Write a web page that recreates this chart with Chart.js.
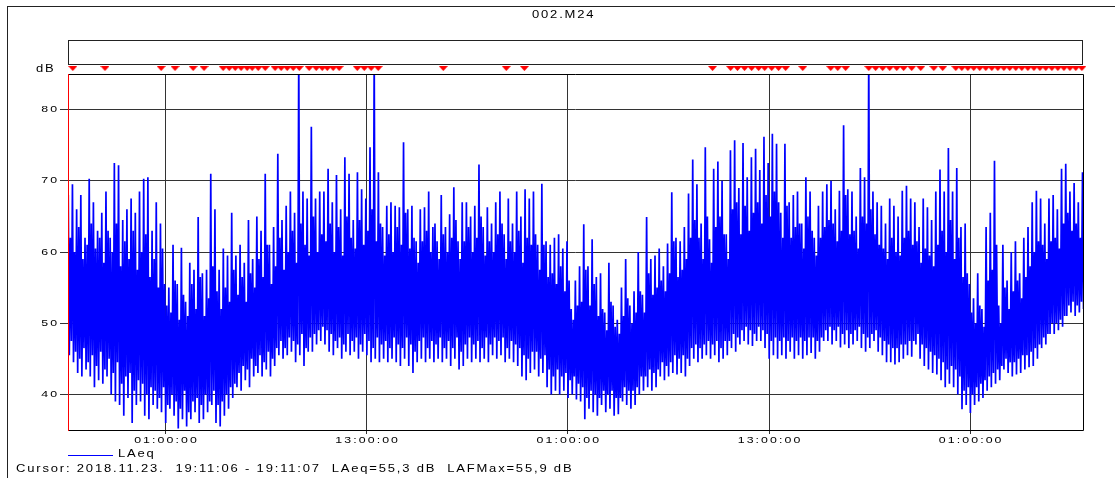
<!DOCTYPE html>
<html lang="en">
<head>
<meta charset="UTF-8">
<title>002.M24</title>
<script src="https://cdn.jsdelivr.net/npm/chart.js@4"></script>
<style>
  body { margin: 0; background: #fff; }
  .wrap { position: relative; width: 1115px; height: 478px; overflow: hidden; font-family: 'Liberation Sans', Arial, sans-serif; }
  #chart { position: absolute; left: 0; top: 0; }
  .frame { position: absolute; left: 7px; top: 6px; right: -4px; bottom: -4px; border-top: 1px solid #222; border-left: 1px solid #222; }
  .box { position: absolute; left: 68px; top: 40px; width: 1013px; height: 23px; border: 1px solid #222; }
  .txt { position: absolute; font-size: 10px; line-height: 10px; letter-spacing: 1.4px; transform: scaleX(1.3); transform-origin: 0 50%; white-space: pre; color: #000; }
  .legline { position: absolute; left: 68px; top: 455px; width: 45px; height: 1px; background: #0000ff; }
</style>
</head>
<body>
<div class="wrap">
  <canvas id="chart" width="1115" height="478"></canvas>
  <div class="frame"></div>
  <div class="box"></div>
  <div class="txt" style="left:532px; top:10px;">002.M24</div>
  <div class="txt" style="left:36px; top:64px;">dB</div>
  <div class="legline"></div>
  <div class="txt" style="left:118px; top:449px;">LAeq</div>
  <div class="txt" style="left:16px; top:464px;">Cursor: 2018.11.23.  19:11:06 - 19:11:07  LAeq=55,3 dB  LAFMax=55,9 dB</div>
</div>

<script>
// time axis in hours counted from midnight of 2018.11.23
const startHour = 19.185;
const endHour = 79.73;
const xTickHours = [25, 37, 49, 61, 73];
const yTicks = [40, 50, 60, 70, 80];

// LAeq: per 15 minutes from 19:12 a tall spike, its dip, a smaller spike and its dip
const spikeStart = 19.2;
const spikeStep = 0.25;
const peakDb = [
  68, 69.5, 66, 68, 62, 70.3, 67, 63, 65.5, 68.5,
  62, 72.5, 72.2, 64.5, 66, 67.5, 65.5, 68.5, 70.3, 70.5,
  63, 67, 64, 55.5, 55, 61, 55.5, 60.6, 53, 58.5,
  57.5, 64.9, 57, 57.5, 71, 66, 57.5, 60.5, 59.5, 65.5,
  59.5, 61, 58.5, 64.5, 59, 65, 63, 71, 61, 63.5,
  73.8, 64.5, 66.5, 68.5, 65.5, 88, 68.5, 67.5, 77.6, 67.5,
  68.5,
  68.5, 71.7, 67, 70.8, 66, 73.3, 71, 64.5, 71.2, 68.8,
  67.5, 74.7, 88, 71.2, 63.5, 66.5, 67, 66.5, 66.3, 75.4,
  66, 66.5, 61.5, 66, 66.3, 68.5, 63.5, 61.5, 68, 63.5,
  65.3, 69.1, 61.5, 67, 67, 65, 66.5, 72.3, 63.5, 66.3,
  64, 67, 68.5, 62.5, 67.5, 64, 68.5, 65, 68.8, 67.5,
  68.5, 61, 69.6, 61.5, 61, 62, 62.5, 60.5, 61.5, 52, 56,
  58, 63.9, 58, 61.8, 56.5, 57, 51.5, 58.5, 52.5, 50.5,
  55, 59, 52.5, 54.5, 60, 54, 64.9, 59, 59.5, 60.5,
  58, 61.2, 68.4, 62, 61.5, 63.5, 68.2, 73, 69.5, 64,
  74.7, 61.8, 71.7, 72.7, 70, 62.5, 74.3, 75.7, 69, 75.3,
  70.5, 73.3, 74.5, 71.5, 76.2, 72.5, 76.6, 75.2, 65.5, 75.2,
  67, 68, 68.5, 64, 70.5, 68.5, 62, 66.5, 68.5, 69.5,
  70, 66, 68.6, 77.8, 68.8, 68.5, 65, 71.8, 70.5, 88,
  68.5, 67, 66.5, 64, 67.5, 66.5, 65, 68.6, 69.3, 67.5,
  67, 63.5, 67.5, 66.3, 64.5, 68.5, 71.6, 68.5, 74.6, 68.5,
  71.8, 63.5, 64, 55.5, 53.5, 57, 52, 63.5, 65.5, 72.8,
  52.5, 61, 56, 60, 61.5, 57, 62, 63.5, 67, 68.6,
  67.5, 64, 67.5, 68, 66, 71.7, 72.4, 68.5, 69.7, 67, 71.2
];
const troughDb = [
  45.5, 44.5, 43, 42.5, 43.5, 42.5, 41, 42, 41.5, 42.5,
  40, 39, 38.5, 37, 39.5, 36, 38.5, 39, 37, 36.5,
  38.5, 38, 37.5, 36, 38, 37, 35.2, 36.5, 35.5, 36.5,
  37.5, 36, 36.5, 37.5, 38.5, 36, 35.5, 37, 38, 39.5,
  41, 40.5, 42, 41, 42.5, 43, 42.5, 43.5, 42.5, 44,
  45.5, 45, 45.5, 46, 44.5, 45.5, 44, 46, 46, 47,
  47.5,
  47, 46, 45.5, 46.5, 45, 46, 45.5, 46, 45, 46,
  45.5, 44.5, 45, 44.5, 45, 44.5, 45, 44.5, 44, 45,
  44, 43, 44.5, 45, 44.5, 45, 44.5, 45, 44.5, 45,
  44, 45, 43.5, 44, 45, 44.5, 45, 44.5, 45, 44.5,
  45.5, 45, 45.5, 44.5, 45, 44.5, 44, 42.5, 42, 43,
  43.5, 42.5, 43, 41, 40, 40.5, 40, 40.5, 39.5, 40, 39.3,
  39, 36.5, 38, 37.5, 37, 38.5, 37.5, 38, 37, 37.2,
  39, 38.5, 38, 38.5, 40, 40.5, 41, 40.5, 41, 42.5,
  42, 42.5, 43, 42.8, 43, 42.5, 44, 45, 44.5, 45,
  45.5, 45, 45.5, 44.5, 45, 45.5, 46.5, 46, 47, 47.5,
  47, 46.8, 47.5, 47.5, 46.5, 45, 45.5, 45, 45.5, 45,
  46, 45, 45.5, 45, 45.5, 45.8, 45, 46, 47.5, 47.5,
  47, 47.5, 46.6, 47, 46.5, 47, 47.5, 46.5, 46, 46.5,
  47.5, 46, 45.5, 44.5, 44.5, 44.2, 44.5, 45, 45.5, 45.3,
  47, 45, 44, 43.5, 43, 42.8, 42, 41, 41.5, 41,
  40, 37.9, 38.5, 37.4, 38.5, 39, 39.5, 40.5, 41, 41.5,
  42, 43.5, 43, 42.5, 42.8, 43, 43.5, 43.8, 44, 45,
  46.5, 47, 48.5, 48.5, 49, 49.5, 51, 51.5, 51, 51.5, 52
];
const midPeakDb = [
  62, 60, 63.5, 59, 61, 64, 60.5, 62, 58.5, 63,
  60, 64, 58, 61.5, 59, 63, 57.5, 60, 62.5, 56.5,
  59, 55, 60.5, 52.5, 51.5, 56, 50.5, 54, 51, 55.5,
  52, 56.5, 51, 53.5, 58, 54.5, 52, 55, 53, 57.5,
  54, 56.5, 53, 57, 55, 59, 56.5, 61, 55.5, 58,
  62, 57.5, 60, 63, 58.5, 64, 61, 59.5, 65, 60, 62.5,
  61.5, 64, 60, 63.5, 59.5, 65, 62, 60.5, 64.5, 61,
  63, 66, 61.5, 64, 59.5, 62.5, 60, 63.5, 61, 65.5,
  60.5, 62, 58.5, 61.5, 63, 60, 64, 59, 62.5, 60,
  62, 64.5, 59, 61.5, 63.5, 60, 62, 65, 59.5, 61.5,
  60, 62.5, 64, 59, 61.5, 60, 63, 58.5, 62, 61,
  62.5, 57.5, 61, 56.5, 57, 55.5, 58, 54.5, 56, 50.5, 52.5,
  53, 57.5, 52.5, 55.5, 51, 52, 49, 53, 49.5, 48.5,
  51, 53.5, 50, 51.5, 54.5, 51.5, 57, 54, 55, 56,
  54.5, 57, 61.5, 56.5, 57.5, 59, 62, 64.5, 62, 59,
  65, 58.5, 63.5, 65, 62.5, 59, 66, 67, 62.5, 66.5,
  63, 65.5, 67, 64, 68, 65, 68.5, 67, 62, 66.5,
  62, 63.5, 64, 60.5, 65, 63, 59.5, 62, 63.5, 64.5,
  64, 61.5, 63, 68, 62.5, 63, 60.5, 65, 64, 66,
  62.5, 61, 60.5, 59, 62, 60, 59.5, 62, 63, 61,
  61.5, 58.5, 60.5, 59.5, 58, 61, 63, 60, 64.5, 59,
  62, 56.5, 57, 51.5, 50, 52.5, 49.5, 56, 57.5, 61,
  50, 55, 52, 54.5, 56, 53.5, 56.5, 58, 60, 61.5,
  61, 59, 61.5, 62, 60.5, 64, 65.5, 63, 64, 62, 64.5
];
const midTroughDb = [
  47.5, 46, 45, 46.5, 44.5, 45.5, 44, 46, 43.5, 45,
  43, 44.5, 41.5, 42.5, 43, 40.5, 42, 41.5, 40, 41,
  40.5, 39.5, 41, 38.5, 40, 39, 38, 40.5, 37.5, 39,
  39.5, 38.5, 40, 39, 40.5, 38.5, 39, 40, 41, 41.5,
  43, 44, 43.5, 45, 44, 45.5, 44.5, 46, 45, 46.5,
  47.5, 46.5, 48, 47.5, 47, 48.5, 46.5, 48, 48.5, 49, 49.5,
  49, 48.5, 47.5, 48, 47, 48.5, 47.5, 48, 47, 48.5,
  47.5, 46.5, 48, 47, 47.5, 46.5, 48, 47, 46.5, 48,
  47, 46, 47.5, 48, 46.5, 47.5, 47, 48, 46.5, 47.5,
  46.5, 48, 46, 47, 48, 47, 47.5, 46.5, 48, 47,
  48, 47.5, 48, 46.5, 47.5, 47, 46.5, 45.5, 45, 46,
  46, 45, 45.5, 43.5, 42.5, 43.5, 42.5, 43, 42, 42.5, 41.5,
  41, 39.5, 40.5, 40, 39.5, 40.5, 40, 40.5, 39.5, 39.5,
  41, 40.5, 40.5, 41, 42.5, 42.5, 43.5, 43, 43.5, 44.5,
  44, 44.5, 45.5, 45, 45.5, 45, 46.5, 47, 46.5, 47,
  47.5, 47, 47.5, 46.5, 47.5, 47.5, 48.5, 48, 49, 49.5,
  49, 48.5, 49.5, 49, 48.5, 47.5, 48, 47.5, 48, 47.5,
  48, 47.5, 48, 47.5, 48, 48, 47.5, 48, 49, 49.5,
  49, 49.5, 48.5, 49, 48.5, 49, 49.5, 48.5, 48, 48.5,
  49, 48, 47.5, 47, 46.5, 46.5, 47, 47, 47.5, 47.5,
  48.5, 47, 46.5, 46, 45.5, 45, 44.5, 43.5, 44, 43.5,
  42.5, 40.5, 41, 40, 41, 41.5, 42, 42.5, 43, 43.5,
  44, 45, 44.5, 44.5, 45, 45.5, 45.5, 46, 46.5, 47,
  48, 48.5, 50, 50, 50.5, 51, 52.5, 53, 52.5, 53, 53.5
];

// event markers above the plot
const markerHours = [
  19.47, 21.39, 24.74, 25.57, 26.65, 27.30, 28.44, 28.80, 29.16, 29.51, 29.87,
  30.17, 30.53, 30.95, 31.54, 31.90, 32.26, 32.62, 32.98, 33.57, 33.99, 34.35,
  34.65, 35.00, 35.36, 36.44, 36.86, 37.27, 37.69, 41.57, 45.33, 46.41,
  57.63, 58.71, 59.12, 59.54, 59.96, 60.38, 60.74, 61.16, 61.57, 61.99, 63.01,
  64.68, 65.10, 65.57, 66.95, 67.36, 67.78, 68.20, 68.62, 69.03, 69.51, 70.05,
  70.83, 71.36, 72.14, 72.50, 72.86, 73.21, 73.57, 73.93, 74.29, 74.65, 75.01,
  75.36, 75.72, 76.08, 76.44, 76.80, 77.16, 77.51, 77.87, 78.23, 78.59, 78.95,
  79.30, 79.66
];
const markerLevel = 85.77;

const laeq = [];
peakDb.forEach((v, i) => {
  const t = spikeStart + i * spikeStep;
  laeq.push({ x: t, y: v });
  laeq.push({ x: t + spikeStep / 4, y: troughDb[i] });
  laeq.push({ x: t + spikeStep / 2, y: midPeakDb[i] });
  laeq.push({ x: t + spikeStep * 3 / 4, y: midTroughDb[i] });
});
const markers = markerHours.map(h => ({ x: h, y: markerLevel }));

// flat red triangle used for the markers
const tri = document.createElement('canvas');
tri.width = 9; tri.height = 5;
const tctx = tri.getContext('2d');
tctx.fillStyle = '#ff0000';
tctx.beginPath(); tctx.moveTo(0, 0); tctx.lineTo(9, 0); tctx.lineTo(4.5, 5); tctx.closePath(); tctx.fill();

function hourLabel(h) {
  const hh = Math.round(h) % 24;
  return (hh < 10 ? '0' : '') + hh + ':00:00';
}

const SX = 1.3, LS = 1.6;
function drawLabel(ctx, text, x, y, align) {
  const w = (ctx.measureText(text).width - LS) * SX;
  const x0 = align === 'right' ? x - w : x - w / 2;
  ctx.save();
  ctx.translate(x0, y);
  ctx.scale(SX, 1);
  ctx.fillText(text, 0, 0);
  ctx.restore();
}

const framePlugin = {
  id: 'framePlugin',
  afterDatasetsDraw(chart) {
    const { ctx, chartArea: a } = chart;
    ctx.save();
    ctx.lineWidth = 1;
    ctx.strokeStyle = '#000';
    ctx.beginPath();
    ctx.moveTo(a.left, a.top + 0.5); ctx.lineTo(a.right + 0.5, a.top + 0.5);
    ctx.lineTo(a.right + 0.5, a.bottom + 0.5); ctx.lineTo(a.left, a.bottom + 0.5);
    ctx.stroke();
    ctx.strokeStyle = '#ff0000';
    ctx.beginPath();
    ctx.moveTo(a.left + 0.5, a.top); ctx.lineTo(a.left + 0.5, a.bottom + 1);
    ctx.stroke();
    ctx.restore();
  },
  afterDraw(chart) {
    const ctx = chart.ctx;
    const xs = chart.scales.x, ys = chart.scales.y;
    ctx.save();
    ctx.fillStyle = '#000';
    ctx.font = '9.5px "Liberation Sans", Arial, sans-serif';
    ctx.letterSpacing = LS + 'px';
    ctx.textAlign = 'left';
    ctx.textBaseline = 'middle';
    ys.ticks.forEach(t => drawLabel(ctx, String(t.value), ys.right - 11, ys.getPixelForValue(t.value), 'right'));
    xs.ticks.forEach(t => drawLabel(ctx, hourLabel(t.value), xs.getPixelForValue(t.value), xs.top + 10.5, 'center'));
    ctx.restore();
  }
};

new Chart(document.getElementById('chart'), {
  type: 'line',
  data: {
    datasets: [
      { label: 'LAeq', data: laeq, borderColor: '#0000ff', borderWidth: 1.7, pointRadius: 0, tension: 0, fill: false },
      { data: markers, showLine: false, pointStyle: tri, pointRadius: 12, borderWidth: 0, clip: false }
    ]
  },
  options: {
    responsive: false,
    devicePixelRatio: 1,
    animation: false,
    events: [],
    layout: { padding: { top: 74, right: 32, left: 0, bottom: 0 } },
    plugins: { legend: { display: false }, tooltip: { enabled: false } },
    scales: {
      x: {
        type: 'linear',
        min: startHour,
        max: endHour,
        afterBuildTicks: s => { s.ticks = xTickHours.map(v => ({ value: v })); },
        afterFit: s => { s.height = 48; },
        ticks: { display: false },
        grid: { color: '#333', tickLength: 4 },
        border: { display: false }
      },
      y: {
        min: 35,
        max: 85,
        afterBuildTicks: s => { s.ticks = yTicks.map(v => ({ value: v })); },
        afterFit: s => { s.width = 68; },
        ticks: { display: false },
        grid: { color: '#333', tickLength: 8 },
        border: { display: false }
      }
    }
  },
  plugins: [framePlugin]
});
</script>
</body>
</html>
